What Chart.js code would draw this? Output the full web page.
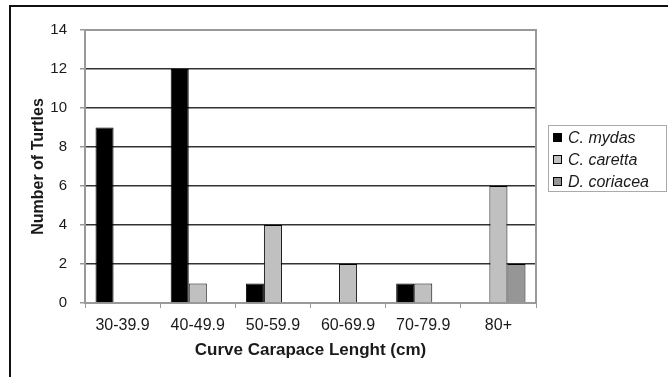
<!DOCTYPE html>
<html>
<head>
<meta charset="utf-8">
<script src="https://cdn.jsdelivr.net/npm/chart.js@4/dist/chart.umd.min.js"></script>
<style>
  html, body { margin: 0; padding: 0; background: #fff; }
  #wrap { position: relative; width: 668px; height: 377px; overflow: hidden; }
  #frame { position: absolute; left: 9px; top: 5px; width: 700px; height: 400px;
           border-left: 2px solid #111; border-top: 2px solid #111; }
  #legend { position: absolute; left: 548px; top: 125px; width: 117px; height: 65px;
            border: 1px solid #aaa; font: italic 16px "Liberation Sans", Arial, sans-serif; color: #1a1a1a; }
  #legend div { position: absolute; left: 4px; height: 20px; line-height: 20px; white-space: nowrap; }
  #legend span { display: inline-block; width: 7px; height: 7px; border: 1px solid #000;
                 margin-right: 6px; vertical-align: 1px; }
  canvas { position: absolute; left: 0; top: 0; }
</style>
</head>
<body>
<div id="wrap">
  <div id="frame"></div>
  <canvas id="barChart" width="668" height="377"></canvas>
  <div id="legend"></div>
</div>
<script>
var categories = ['30-39.9', '40-49.9', '50-59.9', '60-69.9', '70-79.9', '80+'];
var seriesNames = ['C. mydas', 'C. caretta', 'D. coriacea'];
var mydas = [9, 12, 1, 0, 1, 0];
var caretta = [0, 1, 4, 2, 1, 6];
var coriacea = [0, 0, 0, 0, 0, 2];
var colors = ['#000000', '#c0c0c0', '#969696'];

var fontFamily = '"Liberation Sans", Arial, sans-serif';

// grey frame on the top and right of the plot area
var frameLines = {
    id: 'frameLines',
    beforeDatasetsDraw: function (chart) {
        var a = chart.chartArea, c = chart.ctx;
        c.save();
        c.strokeStyle = '#999';
        c.lineWidth = 2;
        c.beginPath();
        c.moveTo(a.left, a.top);
        c.lineTo(a.right, a.top);
        c.lineTo(a.right, a.bottom);
        c.stroke();
        c.restore();
    }
};

var ctx = document.getElementById('barChart').getContext('2d');
var myChart = new Chart(ctx, {
    type: 'bar',
    data: {
        labels: categories,
        datasets: [mydas, caretta, coriacea].map(function (vals, i) {
            return {
                label: seriesNames[i],
                data: vals,
                backgroundColor: colors[i],
                borderColor: '#000',
                borderWidth: 1,
                categoryPercentage: 0.72,
                barPercentage: 1.0
            };
        })
    },
    options: {
        responsive: false,
        animation: false,
        layout: { padding: { left: 0, top: 30, right: 132, bottom: 0 } },
        plugins: { legend: { display: false }, tooltip: { enabled: false } },
        scales: {
            x: {
                grid: { drawOnChartArea: false, offset: true, tickLength: 5, color: '#999', lineWidth: 1 },
                border: { color: '#999', width: 2 },
                ticks: { color: '#1a1a1a', padding: 8, font: { family: fontFamily, size: 16 } },
                title: { display: true, text: 'Curve Carapace Lenght (cm)', color: '#1a1a1a',
                         padding: { top: 0, bottom: 16 }, font: { family: fontFamily, size: 17, weight: 'bold' } },
                afterFit: function (scale) { scale.height = 74; }
            },
            y: {
                min: 0, max: 14,
                grid: {
                    tickLength: 5,
                    tickColor: '#999',
                    lineWidth: 1.5,
                    color: function (c) { return c.tick && c.tick.value === 14 ? '#999' : '#333'; }
                },
                border: { color: '#999', width: 2 },
                ticks: { stepSize: 2, color: '#1a1a1a', padding: 13, font: { family: fontFamily, size: 15 } },
                title: { display: true, text: 'Number of Turtles', color: '#1a1a1a',
                         padding: { top: 29, bottom: 0 }, font: { family: fontFamily, size: 16, weight: 'bold' } },
                afterFit: function (scale) { scale.width = 85; }
            }
        }
    },
    plugins: [frameLines]
});

var legendEl = document.getElementById('legend');
seriesNames.forEach(function (name, i) {
    var row = document.createElement('div');
    row.style.top = (2 + i * 22) + 'px';
    var sw = document.createElement('span');
    sw.style.background = colors[i];
    row.appendChild(sw);
    row.appendChild(document.createTextNode(name));
    legendEl.appendChild(row);
});
</script>
</body>
</html>
